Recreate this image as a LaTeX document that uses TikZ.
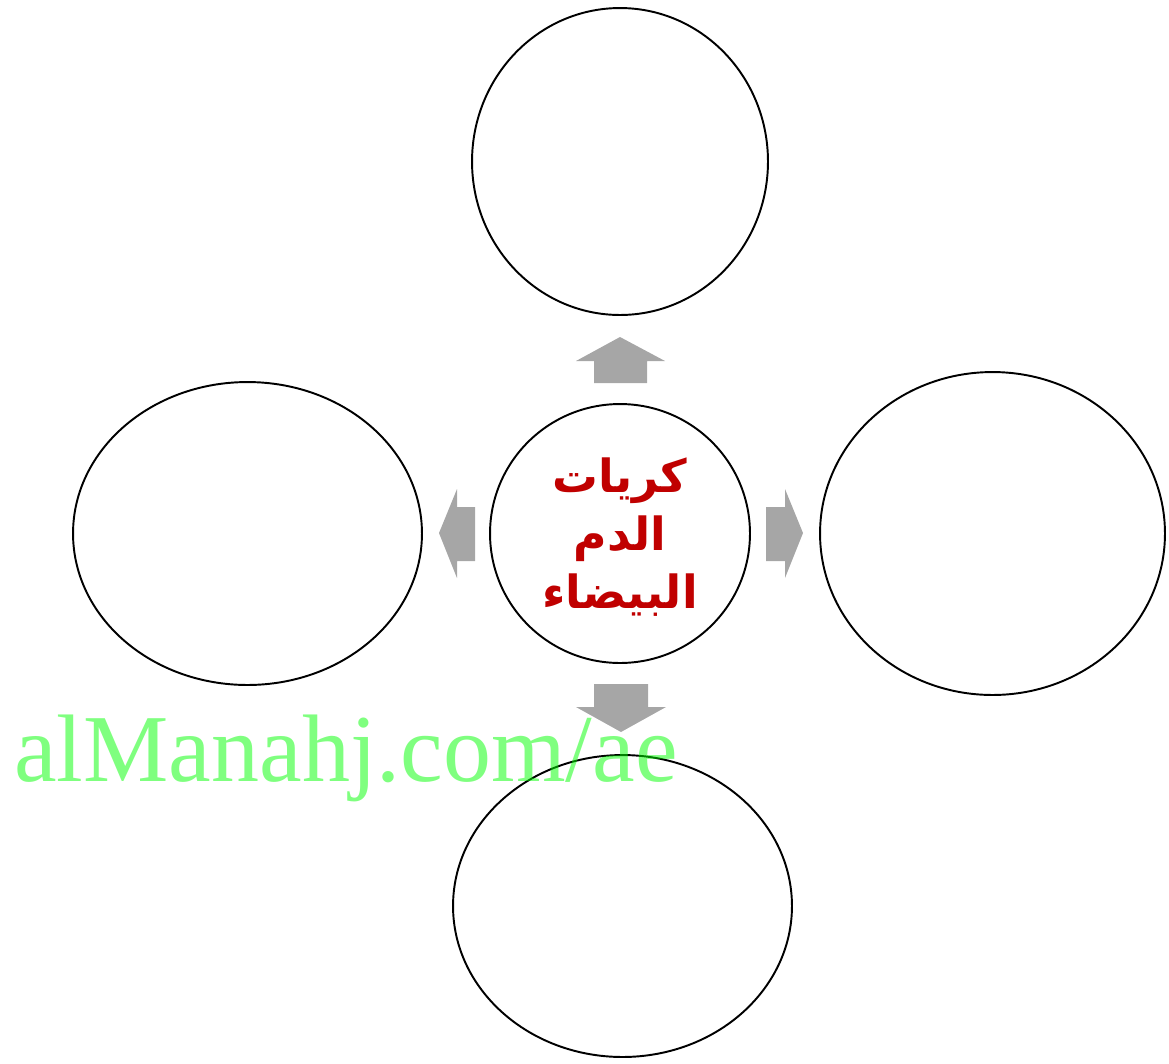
\documentclass[tikz,border=0pt]{standalone}
\usepackage{fontspec}
\setmainfont{Liberation Serif}
\newfontfamily\arabicfont[Script=Arabic]{DejaVu Sans}
\TeXXeTstate=1
\usetikzlibrary{shapes.geometric, positioning}

\definecolor{arrowgray}{HTML}{A6A6A6}
\definecolor{titlered}{HTML}{C00000}

\begin{document}
\begin{tikzpicture}[
    x=0.02cm, y=-0.02cm,
    % Node Styles
    bubble/.style={ellipse, draw=black, line width=1.1pt, inner sep=0pt, fill=white},
    blockarrow/.style={fill=arrowgray, draw=none},
    title/.style={text=titlered, font=\arabicfont\bfseries\fontsize{26}{33}\selectfont, align=center, inner sep=0pt},
    watermark/.style={text=green, text opacity=0.5, font=\fontsize{54.6}{60}\selectfont, anchor=base west, inner sep=0pt}
]
\useasboundingbox (0,0) rectangle (1169,1063);

% --- 1. Central Node ---
\node[bubble, minimum width=5.2cm, minimum height=5.18cm] (wbc) at (620,533.5) {};
\node[title] (wbctext) at ([yshift=-2pt]wbc.center) {\beginR كريات\endR\\\beginR الدم\endR\\\beginR البيضاء\endR};

% --- 2. Outer Nodes ---
\node[bubble, minimum width=5.92cm, minimum height=6.14cm] (top) at (620,161.5) {};
\node[bubble, minimum width=6.98cm, minimum height=6.06cm] (left) at (247.5,533.5) {};
\node[bubble, minimum width=6.9cm, minimum height=6.46cm] (right) at (992.5,533.5) {};
\node[bubble, minimum width=6.78cm, minimum height=6.04cm] (bottom) at (622.5,906) {};

% --- 3. Block Arrows ---
\fill[blockarrow] (594,383) -- (594,361) -- (576,361) -- (620,337) -- (665,361) -- (647,361) -- (647,383) -- cycle;
\fill[blockarrow] (475,507) -- (457,507) -- (457,489) -- (439,533) -- (457,578) -- (457,561) -- (475,561) -- cycle;
\fill[blockarrow] (766,507) -- (785,507) -- (785,489) -- (803,533) -- (785,578) -- (785,561) -- (766,561) -- cycle;
\fill[blockarrow] (594,684) -- (594,707) -- (576,707) -- (621,732) -- (666,707) -- (648,707) -- (648,684) -- cycle;

% --- 4. Watermark ---
\node[watermark] (mark) at (14,781) {alManahj.com/ae};

\end{tikzpicture}
\end{document}
